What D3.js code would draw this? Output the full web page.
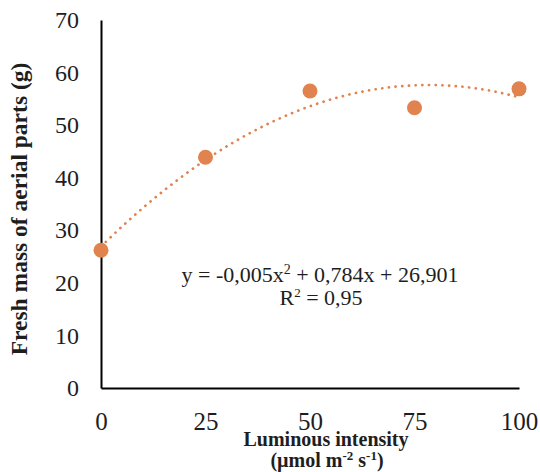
<!DOCTYPE html>
<html>
<head>
<meta charset="utf-8">
<script src="https://cdn.jsdelivr.net/npm/d3@7"></script>
<style>
  body { margin: 0; background: #fff; }
  text { font-family: "Liberation Serif", "Times New Roman", serif; }
</style>
</head>
<body>
<svg id="chart" width="540" height="472"></svg>
<script>
// data
const intensity = [0, 25, 50, 75, 100];
const freshMass = [26.2, 43.9, 56.5, 53.3, 56.9];
const xTicks = [0, 25, 50, 75, 100];
const yTicks = [0, 10, 20, 30, 40, 50, 60, 70];
// polynomial trendline coefficients (a*x^2 + b*x + c)
const trendCoef = [-0.005, 0.784, 26.901];

const width = 540, height = 472;
const margin = {left: 101, right: 21, top: 20, bottom: 84};
const color = "#e0834f";
const ink = "#1e1e1e";

const svg = d3.select("#chart");

const x = d3.scaleLinear().domain([0, 100]).range([margin.left, width - margin.right]);
const y = d3.scaleLinear().domain([0, 70]).range([height - margin.bottom, margin.top]);

// axes
const yAxis = svg.append("g")
    .attr("transform", `translate(${margin.left},0)`)
    .call(d3.axisLeft(y).tickValues(yTicks).tickSize(0).tickPadding(22));
yAxis.select(".domain").attr("stroke", "#000").attr("stroke-width", 2);
yAxis.selectAll("text").attr("font-size", 24).attr("fill", ink)
    .attr("font-family", "Liberation Serif");

const xAxis = svg.append("g")
    .attr("transform", `translate(0,${height - margin.bottom})`)
    .call(d3.axisBottom(x).tickValues(xTicks).tickSize(0).tickPadding(24));
xAxis.select(".domain").attr("stroke", "#000").attr("stroke-width", 2);
xAxis.selectAll("text").attr("font-size", 25).attr("fill", ink)
    .attr("font-family", "Liberation Serif");

// trendline
const trend = d3.range(0, 100.5, 1).map(v => [v, trendCoef[0] * v * v + trendCoef[1] * v + trendCoef[2]]);
svg.append("path")
    .datum(trend)
    .attr("fill", "none")
    .attr("stroke", color)
    .attr("stroke-width", 2.7)
    .attr("stroke-linecap", "round")
    .attr("stroke-dasharray", "0.1 6.6")
    .attr("d", d3.line().x(d => x(d[0])).y(d => y(d[1])));

// points
svg.selectAll("circle.pt")
    .data(intensity)
    .enter()
    .append("circle")
    .attr("class", "pt")
    .attr("cx", d => x(d))
    .attr("cy", (d, i) => y(freshMass[i]))
    .attr("r", 7.5)
    .attr("fill", color);

// equation
const eq = svg.append("text")
    .attr("x", 320).attr("y", 282)
    .attr("text-anchor", "middle")
    .attr("font-size", 22).attr("fill", ink);
eq.append("tspan").text("y = -0,005x");
eq.append("tspan").attr("font-size", 14).attr("dy", -8).text("2");
eq.append("tspan").attr("dy", 8).text(" + 0,784x + 26,901");

const r2 = svg.append("text")
    .attr("x", 321).attr("y", 305)
    .attr("text-anchor", "middle")
    .attr("font-size", 22).attr("fill", ink);
r2.append("tspan").text("R");
r2.append("tspan").attr("font-size", 13).attr("dy", -8).text("2");
r2.append("tspan").attr("dy", 8).text(" = 0,95");

// axis titles
svg.append("text")
    .attr("transform", "translate(27,209) rotate(-90)")
    .attr("text-anchor", "middle")
    .attr("font-size", 23.5).attr("font-weight", "bold").attr("fill", ink)
    .text("Fresh mass of aerial parts (g)");

svg.append("text")
    .attr("x", 326).attr("y", 446)
    .attr("text-anchor", "middle")
    .attr("font-size", 20).attr("font-weight", "bold").attr("fill", ink)
    .text("Luminous intensity");

const unit = svg.append("text")
    .attr("x", 327).attr("y", 467)
    .attr("text-anchor", "middle")
    .attr("font-size", 20).attr("font-weight", "bold").attr("fill", ink);
unit.append("tspan").text("(µmol m");
unit.append("tspan").attr("font-size", 13).attr("dy", -7).text("-2");
unit.append("tspan").attr("dy", 7).text(" s");
unit.append("tspan").attr("font-size", 13).attr("dy", -7).text("-1");
unit.append("tspan").attr("dy", 7).text(")");
</script>
</body>
</html>
